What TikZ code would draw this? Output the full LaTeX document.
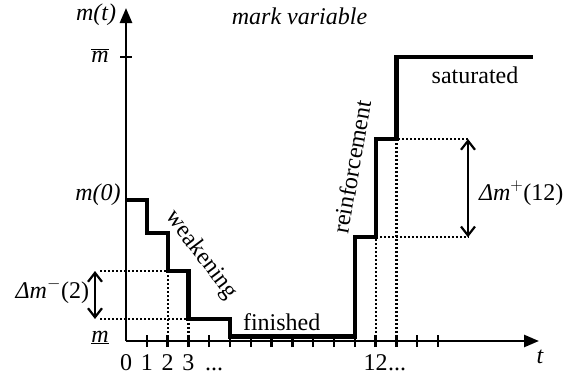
\documentclass[tikz,border=0pt]{standalone}
\usepackage{fontspec}
\setmainfont{Liberation Serif}
\usetikzlibrary{arrows.meta}

\begin{document}
\begin{tikzpicture}[x=1pt,y=1pt,
  font=\fontsize{24}{28}\selectfont,
  axisline/.style={draw=drawColor,line width=2.6pt,-{Triangle[length=15pt,width=12pt]}},
  tickline/.style={draw=drawColor,line width=2.4pt},
  stepline/.style={draw=drawColor,line width=4.2pt,line join=miter},
  guide/.style={draw=drawColor,line width=2.2pt,dash pattern=on 2pt off 2pt},
  span/.style={draw=drawColor,line width=2.2pt,{Straight Barb[length=9pt,width=14pt]}-{Straight Barb[length=9pt,width=14pt]}},
  lbl/.style={text=drawColor,inner sep=0pt,outer sep=0pt}]
\definecolor{fillColor}{RGB}{255,255,255}
\definecolor{drawColor}{RGB}{0,0,0}
\path[use as bounding box,fill=fillColor] (0,0) rectangle (570,376);

% axes
\coordinate (origin) at (126,35);
\coordinate (ytip) at (126,368);
\coordinate (ttip) at (539,35);
\path[axisline] (origin) -- (ytip);
\path[axisline] (origin) -- (ttip);

\path[tickline] (120,319) -- (132,319);

\path[tickline] (146.8,29) -- (146.8,41);
\path[tickline] (167.6,29) -- (167.6,41);
\path[tickline] (188.4,29) -- (188.4,41);
\path[tickline] (209.2,29) -- (209.2,41);
\path[tickline] (230.0,29) -- (230.0,41);
\path[tickline] (250.8,29) -- (250.8,41);
\path[tickline] (271.6,29) -- (271.6,41);
\path[tickline] (292.4,29) -- (292.4,41);
\path[tickline] (313.2,29) -- (313.2,41);
\path[tickline] (334.0,29) -- (334.0,41);
\path[tickline] (354.8,29) -- (354.8,41);
\path[tickline] (375.6,29) -- (375.6,41);
\path[tickline] (396.4,29) -- (396.4,41);
\path[tickline] (417.2,29) -- (417.2,41);
\path[tickline] (438.0,29) -- (438.0,41);

% helper lines
\path[guide] (100,105) -- (167.6,105) -- (167.6,35);
\path[guide] (100,57) -- (188.4,57) -- (188.4,35);
\path[guide] (375.6,35) -- (375.6,138.7) -- (468,138.7);
\path[guide] (396.4,35) -- (396.4,237) -- (468,237);

\coordinate (dmtop) at (95,105);
\coordinate (dmbot) at (95,57);
\path[span] (dmtop) -- (dmbot);
\coordinate (dptop) at (468,237);
\coordinate (dpbot) at (468,138.7);
\path[span] (dptop) -- (dpbot);

% the mark
\path[stepline] (126,176) -- (146.8,176) -- (146.8,142.7) -- (167.6,142.7)
  -- (167.6,105) -- (188.4,105) -- (188.4,57) -- (230,57) -- (230,39.5)
  -- (354.8,39.5) -- (354.8,138.7) -- (375.6,138.7) -- (375.6,237)
  -- (396.4,237) -- (396.4,319) -- (533,319);

% labels
\node[lbl] (mt) at (96,361) {\itshape m(t)};
\node[lbl] (title) at (299.5,360) {\itshape mark variable};
\node[lbl,anchor=base] (mmax) at (100,314) {$\overline{\textit{m}}$};
\node[lbl,anchor=base] (mzero) at (98,176) {\itshape m(0)};
\node[lbl,anchor=base] (mmin) at (100,34) {\underline{\textit{m}}};

\node[lbl,anchor=base] (t0) at (126.0,6) {0};
\node[lbl,anchor=base] (t1) at (146.8,6) {1};
\node[lbl,anchor=base] (t2) at (167.6,6) {2};
\node[lbl,anchor=base] (t3) at (188.4,6) {3};
\node[lbl,anchor=base] (tdots) at (214,6) {...};
\node[lbl,anchor=base] (t12) at (375.6,6) {12};
\node[lbl,anchor=base] (t12dots) at (397,6) {...};
\node[lbl,anchor=base] (taxis) at (540,13) {\itshape t};

\node[lbl,anchor=base east] (dminus) at (89,78) {{\itshape Δm}$^{-}$(2)};
\node[lbl,anchor=base west] (dplus) at (479,176) {{\itshape Δm}$^{+}$(12)};

\node[lbl,rotate=-53] (weak) at (201,121) {weakening};
\node[lbl,rotate=80] (reinf) at (352,209) {reinforcement};
\node[lbl] (fin) at (281.7,54.3) {finished};
\node[lbl] (sat) at (475,301) {saturated};
\end{tikzpicture}
\end{document}
